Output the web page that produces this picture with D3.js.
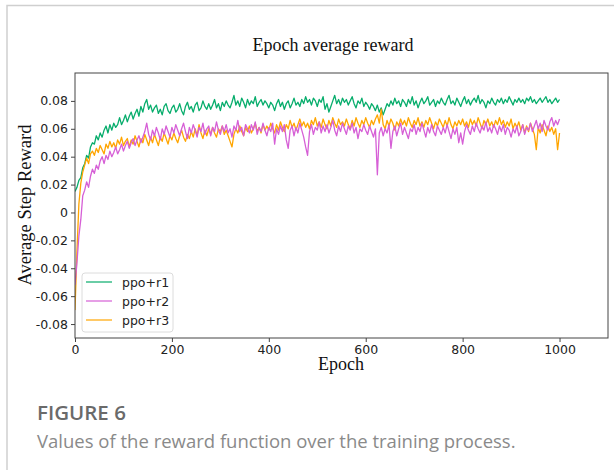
<!DOCTYPE html>
<html>
<head>
<meta charset="utf-8">
<script src="https://cdn.jsdelivr.net/npm/d3@7"></script>
<style>
  html, body { margin: 0; padding: 0; background: #fff; }
  svg { display: block; }
</style>
</head>
<body>
<svg id="fig" width="614" height="470"></svg>
<script>
// Epoch average reward for three reward variants, sampled every 4 epochs (0..1000)
const seriesNames = ["ppo+r1", "ppo+r2", "ppo+r3"];
const seriesColors = ["#07ad6c", "#d65fd6", "#ffa500"];

const rewardR1 = [
  0.015, 0.018, 0.023, 0.025, 0.032, 0.035, 0.041, 0.039, 0.047, 0.050,
  0.049, 0.055, 0.052, 0.057, 0.054, 0.059, 0.062, 0.057, 0.063, 0.059,
  0.064, 0.061, 0.063, 0.068, 0.063, 0.066, 0.070, 0.065, 0.069, 0.072,
  0.067, 0.071, 0.074, 0.069, 0.076, 0.072, 0.078, 0.081, 0.074, 0.077,
  0.072, 0.075, 0.077, 0.071, 0.074, 0.070, 0.076, 0.078, 0.073, 0.071,
  0.075, 0.077, 0.072, 0.074, 0.078, 0.073, 0.070, 0.076, 0.079, 0.074,
  0.076, 0.072, 0.077, 0.079, 0.073, 0.075, 0.080, 0.076, 0.074, 0.078,
  0.074, 0.077, 0.081, 0.075, 0.078, 0.073, 0.079, 0.076, 0.080, 0.077,
  0.075, 0.079, 0.084, 0.077, 0.080, 0.076, 0.082, 0.079, 0.075, 0.081,
  0.077, 0.080, 0.078, 0.083, 0.076, 0.079, 0.081, 0.077, 0.080, 0.078,
  0.075, 0.079, 0.077, 0.073, 0.078, 0.081, 0.076, 0.079, 0.074, 0.078,
  0.080, 0.075, 0.078, 0.082, 0.077, 0.079, 0.076, 0.081, 0.078, 0.083,
  0.079, 0.081, 0.077, 0.082, 0.080, 0.076, 0.081, 0.079, 0.083, 0.074,
  0.078, 0.072, 0.076, 0.080, 0.084, 0.078, 0.081, 0.077, 0.082, 0.079,
  0.081, 0.077, 0.080, 0.083, 0.078, 0.075, 0.080, 0.078, 0.082, 0.076,
  0.079, 0.077, 0.074, 0.078, 0.076, 0.073, 0.077, 0.072, 0.075, 0.070,
  0.074, 0.078, 0.076, 0.080, 0.077, 0.082, 0.078, 0.080, 0.076, 0.081,
  0.079, 0.076, 0.081, 0.078, 0.083, 0.077, 0.080, 0.075, 0.079, 0.082,
  0.078, 0.080, 0.083, 0.077, 0.079, 0.081, 0.076, 0.080, 0.078, 0.082,
  0.079, 0.077, 0.081, 0.084, 0.078, 0.080, 0.077, 0.082, 0.079, 0.076,
  0.080, 0.083, 0.078, 0.081, 0.077, 0.080, 0.082, 0.079, 0.084, 0.078,
  0.081, 0.079, 0.075, 0.080, 0.078, 0.082, 0.079, 0.077, 0.081, 0.079,
  0.082, 0.078, 0.081, 0.079, 0.083, 0.080, 0.077, 0.081, 0.079, 0.082,
  0.079, 0.081, 0.078, 0.082, 0.080, 0.083, 0.079, 0.081, 0.078, 0.080,
  0.082, 0.079, 0.081, 0.083, 0.079, 0.081, 0.078, 0.080, 0.082, 0.079,
  0.081
];

const rewardR2 = [
  -0.052, -0.036, -0.017, -0.005, 0.012, 0.016, 0.022, 0.018, 0.026, 0.031,
  0.028, 0.034, 0.031, 0.037, 0.040, 0.035, 0.041, 0.038, 0.044, 0.040,
  0.043, 0.047, 0.042, 0.045, 0.049, 0.044, 0.048, 0.051, 0.046, 0.050,
  0.053, 0.048, 0.052, 0.055, 0.050, 0.054, 0.058, 0.064, 0.056, 0.052,
  0.059, 0.055, 0.061, 0.057, 0.052, 0.060, 0.056, 0.062, 0.058, 0.054,
  0.061, 0.057, 0.063, 0.059, 0.055, 0.060, 0.064, 0.058, 0.053, 0.061,
  0.057, 0.063, 0.059, 0.054, 0.061, 0.058, 0.064, 0.056, 0.060, 0.062,
  0.055, 0.061, 0.058, 0.065, 0.059, 0.056, 0.062, 0.058, 0.063, 0.057,
  0.060, 0.054, 0.062, 0.059, 0.066, 0.058, 0.061, 0.055, 0.063, 0.060,
  0.057, 0.063, 0.059, 0.065, 0.056, 0.061, 0.058, 0.064, 0.059, 0.055,
  0.061, 0.058, 0.064, 0.049, 0.060, 0.056, 0.062, 0.058, 0.063, 0.052,
  0.046, 0.059, 0.062, 0.055, 0.061, 0.057, 0.064, 0.059, 0.054, 0.047,
  0.041, 0.058, 0.063, 0.056, 0.061, 0.059, 0.065, 0.057, 0.062, 0.058,
  0.063, 0.057, 0.061, 0.066, 0.059, 0.055, 0.062, 0.058, 0.064, 0.060,
  0.056, 0.062, 0.059, 0.064, 0.057, 0.061, 0.053, 0.060, 0.058, 0.063,
  0.059, 0.056, 0.062, 0.058, 0.054, 0.060, 0.027, 0.057, 0.061, 0.055,
  0.060, 0.057, 0.063, 0.046, 0.058, 0.062, 0.055, 0.060, 0.064, 0.056,
  0.061, 0.057, 0.053, 0.060, 0.058, 0.063, 0.056, 0.061, 0.058, 0.064,
  0.059, 0.054, 0.061, 0.057, 0.063, 0.058, 0.055, 0.062, 0.059, 0.056,
  0.061, 0.057, 0.063, 0.058, 0.053, 0.060, 0.056, 0.061, 0.050, 0.057,
  0.049, 0.058, 0.063, 0.059, 0.056, 0.062, 0.058, 0.064, 0.060, 0.057,
  0.062, 0.059, 0.065, 0.058, 0.061, 0.057, 0.063, 0.060, 0.056, 0.062,
  0.058, 0.063, 0.056, 0.061, 0.059, 0.054, 0.060, 0.057, 0.062, 0.055,
  0.058, 0.063, 0.056, 0.061, 0.059, 0.064, 0.058, 0.062, 0.066, 0.060,
  0.064, 0.058, 0.066, 0.062, 0.059, 0.065, 0.068, 0.062, 0.066, 0.063,
  0.067
];

const rewardR3 = [
  -0.070, -0.028, 0.006, 0.021, 0.029, 0.034, 0.039, 0.035, 0.042, 0.044,
  0.041, 0.046, 0.043, 0.048, 0.045, 0.042, 0.049, 0.046, 0.051, 0.047,
  0.050, 0.046, 0.052, 0.049, 0.054, 0.048, 0.051, 0.053, 0.047, 0.052,
  0.049, 0.055, 0.051, 0.047, 0.053, 0.050, 0.056, 0.052, 0.048, 0.054,
  0.050, 0.056, 0.052, 0.048, 0.054, 0.051, 0.057, 0.053, 0.049, 0.055,
  0.052, 0.057, 0.053, 0.050, 0.055, 0.059, 0.054, 0.051, 0.056, 0.053,
  0.058, 0.054, 0.060, 0.055, 0.063, 0.057, 0.053, 0.059, 0.055, 0.060,
  0.056, 0.061, 0.057, 0.054, 0.060, 0.058, 0.062, 0.056, 0.059, 0.055,
  0.051, 0.047, 0.056, 0.060, 0.057, 0.062, 0.058, 0.055, 0.061, 0.058,
  0.062, 0.057, 0.060, 0.064, 0.058, 0.061, 0.057, 0.063, 0.059, 0.062,
  0.059, 0.064, 0.060, 0.057, 0.063, 0.059, 0.065, 0.061, 0.058, 0.063,
  0.060, 0.066, 0.061, 0.064, 0.059, 0.063, 0.067, 0.062, 0.065, 0.061,
  0.064, 0.060, 0.066, 0.063, 0.068, 0.062, 0.065, 0.061, 0.067, 0.063,
  0.060, 0.066, 0.062, 0.068, 0.064, 0.061, 0.067, 0.063, 0.065, 0.062,
  0.067, 0.063, 0.060, 0.066, 0.062, 0.068, 0.064, 0.061, 0.066, 0.063,
  0.068, 0.064, 0.061, 0.066, 0.063, 0.067, 0.070, 0.064, 0.074, 0.063,
  0.060, 0.066, 0.062, 0.067, 0.064, 0.059, 0.065, 0.062, 0.067, 0.063,
  0.066, 0.062, 0.068, 0.064, 0.061, 0.066, 0.063, 0.068, 0.062, 0.065,
  0.061, 0.066, 0.063, 0.068, 0.064, 0.060, 0.065, 0.062, 0.067, 0.064,
  0.061, 0.066, 0.062, 0.068, 0.063, 0.060, 0.065, 0.062, 0.066, 0.063,
  0.067, 0.062, 0.065, 0.061, 0.067, 0.063, 0.066, 0.062, 0.068, 0.064,
  0.060, 0.066, 0.063, 0.067, 0.062, 0.065, 0.061, 0.066, 0.063, 0.068,
  0.063, 0.066, 0.061, 0.065, 0.062, 0.067, 0.060, 0.064, 0.061, 0.065,
  0.059, 0.063, 0.057, 0.062, 0.058, 0.064, 0.060, 0.056, 0.045, 0.061,
  0.057, 0.063, 0.059, 0.055, 0.062, 0.058, 0.061, 0.056, 0.060, 0.045,
  0.057
];

const epochs = d3.range(0, 1001, 4);
const xTicks = [0, 200, 400, 600, 800, 1000];
const yTicks = [-0.08, -0.06, -0.04, -0.02, 0, 0.02, 0.04, 0.06, 0.08];

const titleText = "Epoch average reward";
const xLabelText = "Epoch";
const yLabelText = "Average Step Reward";
const figLabel = "FIGURE 6";
const captionText = "Values of the reward function over the training process.";

const svg = d3.select("#fig");

// card outline
svg.append("rect")
  .attr("x", 7).attr("y", 5.5)
  .attr("width", 700).attr("height", 600)
  .attr("fill", "#fff")
  .attr("stroke", "#cfcfcf").attr("stroke-width", 1.5);

const plot = { left: 75, right: 608, top: 73, bottom: 338 };

const x = d3.scaleLinear().domain([0, 1100]).range([plot.left, plot.right]);
const y = d3.scaleLinear().domain([-0.09, 0.1]).range([plot.bottom, plot.top]);

svg.append("clipPath").attr("id", "plotclip")
  .append("rect")
  .attr("x", plot.left).attr("y", plot.top)
  .attr("width", plot.right - plot.left).attr("height", plot.bottom - plot.top);

const line = d3.line().x((d, i) => x(epochs[i])).y(d => y(d));

// green first, then orange, magenta on top
const drawOrder = [0, 2, 1];
const allSeries = [rewardR1, rewardR2, rewardR3];
const lines = svg.append("g").attr("clip-path", "url(#plotclip)");
drawOrder.forEach(k => {
  lines.append("path")
    .datum(allSeries[k])
    .attr("d", line)
    .attr("fill", "none")
    .attr("stroke", seriesColors[k])
    .attr("stroke-width", 1.3)
    .attr("stroke-linejoin", "round");
});

// frame
svg.append("rect")
  .attr("x", plot.left).attr("y", plot.top)
  .attr("width", plot.right - plot.left).attr("height", plot.bottom - plot.top)
  .attr("fill", "none").attr("stroke", "#444").attr("stroke-width", 1);

const tickFont = "'DejaVu Sans', sans-serif";

const xAxis = svg.append("g")
  .attr("transform", `translate(0,${plot.bottom})`)
  .call(d3.axisBottom(x).tickValues(xTicks).tickSize(4).tickPadding(3).tickFormat(d3.format("d")));
const yAxis = svg.append("g")
  .attr("transform", `translate(${plot.left},0)`)
  .call(d3.axisLeft(y).tickValues(yTicks).tickSize(4).tickPadding(3)
    .tickFormat(d => d === 0 ? "0" : d.toFixed(2)));

[xAxis, yAxis].forEach(a => {
  a.select(".domain").remove();
  a.selectAll(".tick line").attr("stroke", "#444");
  a.selectAll(".tick text")
    .attr("fill", "#222")
    .style("font-family", tickFont)
    .style("font-size", "12.5px");
});

// titles
const serif = "'Liberation Serif', 'Times New Roman', serif";
svg.append("text")
  .attr("x", 333).attr("y", 51)
  .attr("text-anchor", "middle")
  .style("font-family", serif).style("font-size", "18px").attr("fill", "#111")
  .text(titleText);
svg.append("text")
  .attr("x", 341).attr("y", 370)
  .attr("text-anchor", "middle")
  .style("font-family", serif).style("font-size", "18px").attr("fill", "#111")
  .text(xLabelText);
svg.append("text")
  .attr("transform", "translate(31,205) rotate(-90)")
  .attr("text-anchor", "middle")
  .style("font-family", serif).style("font-size", "18.5px").attr("fill", "#111")
  .text(yLabelText);

// legend
const lg = svg.append("g");
lg.append("rect")
  .attr("x", 82).attr("y", 273).attr("width", 91).attr("height", 59)
  .attr("rx", 3)
  .attr("fill", "#fff").attr("fill-opacity", 0.85)
  .attr("stroke", "#dcdcdc").attr("stroke-width", 1);
seriesNames.forEach((name, i) => {
  const yy = 282 + i * 19;
  lg.append("line")
    .attr("x1", 86).attr("x2", 112).attr("y1", yy).attr("y2", yy)
    .attr("stroke", seriesColors[i]).attr("stroke-width", 1.5).attr("stroke-opacity", 0.8);
  lg.append("text")
    .attr("x", 122).attr("y", yy + 4.5)
    .style("font-family", tickFont).style("font-size", "12.5px").attr("fill", "#222")
    .text(name);
});

// caption
svg.append("text")
  .attr("x", 37).attr("y", 420)
  .style("font-family", "'Open Sans', sans-serif").style("font-size", "20.5px")
  .style("font-weight", 600).attr("fill", "#6a6a6a")
  .text(figLabel);
svg.append("text")
  .attr("x", 37).attr("y", 448)
  .style("font-family", "'Open Sans', sans-serif").style("font-size", "18.5px")
  .attr("fill", "#8a8a8a")
  .text(captionText);
</script>
</body>
</html>
